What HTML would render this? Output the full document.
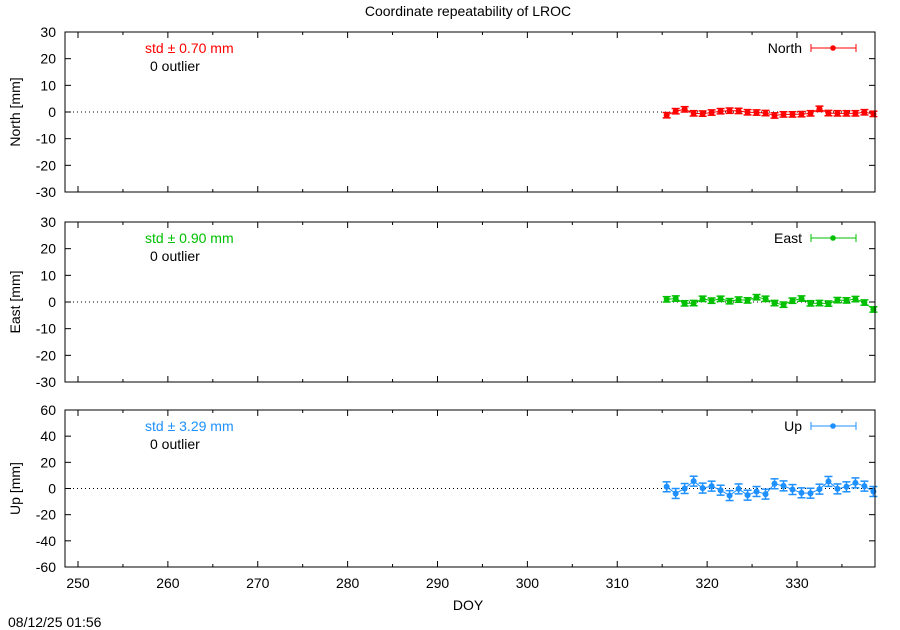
<!DOCTYPE html>
<html><head><style>body{margin:0;background:#fff}svg{display:block;font-family:"Liberation Sans",sans-serif}</style></head>
<body><svg id="s" width="900" height="630" xmlns="http://www.w3.org/2000/svg"></svg>
<script>
const s=document.getElementById('s');let h='';
const X0=65,X1=875,xp=d=>78+(d-250)*8.9875;
h+='<text x="468" y="16" font-size="14" text-anchor="middle">Coordinate repeatability of LROC</text>';
const panels=[
 {t:32,b:192,min:-30,max:30,step:10,lab:'North [mm]',col:'#ff0000',std:'0.70',name:'North',err:1.0,
  v:[-1.2,0.3,1.0,-0.5,-0.6,-0.2,0.3,0.5,0.4,-0.1,-0.2,-0.4,-1.3,-0.9,-0.9,-0.8,-0.5,1.2,-0.4,-0.5,-0.5,-0.5,-0.1,-0.7]},
 {t:222,b:382,min:-30,max:30,step:10,lab:'East [mm]',col:'#00c000',std:'0.90',name:'East',err:1.0,
  v:[1.0,1.3,-0.5,-0.4,1.2,0.5,1.2,0.3,0.9,0.6,1.8,1.2,-0.4,-1.0,0.5,1.3,-0.5,-0.4,-0.6,0.7,0.6,1.1,-0.2,-2.8]},
 {t:410,b:567,min:-60,max:60,step:20,lab:'Up [mm]',col:'#1e90ff',std:'3.29',name:'Up',err:3.8,
  v:[1.3,-3.8,0,5.6,0.3,1.8,-1.3,-5.4,-0.3,-5.1,-2.3,-4.3,3.6,2.0,-0.8,-3.3,-3.6,-0.5,5.4,-0.3,1.3,4.3,1.8,-2.3]}];
panels.forEach(p=>{
 const yp=v=>p.b-(v-p.min)/(p.max-p.min)*(p.b-p.t);
 for(let v=p.min;v<=p.max;v+=p.step){const y=yp(v);
  h+=`<line x1="${X0}" y1="${y}" x2="${X0+6}" y2="${y}" stroke="#000"/><line x1="${X1}" y1="${y}" x2="${X1-6}" y2="${y}" stroke="#000"/>`;
  h+=`<text x="56" y="${y+5}" font-size="14" text-anchor="end">${v}</text>`;}
 for(let d=250;d<=330;d+=10){const x=xp(d);
  h+=`<line x1="${x}" y1="${p.b}" x2="${x}" y2="${p.b-6}" stroke="#000"/><line x1="${x}" y1="${p.t}" x2="${x}" y2="${p.t+6}" stroke="#000"/>`;}
 for(let d=255;d<=335;d+=10){const x=xp(d);
  h+=`<line x1="${x}" y1="${p.b}" x2="${x}" y2="${p.b-3}" stroke="#000"/><line x1="${x}" y1="${p.t}" x2="${x}" y2="${p.t+3}" stroke="#000"/>`;}
 const z=yp(0);
 h+=`<line x1="${X0}" y1="${z}" x2="${X1}" y2="${z}" stroke="#000" stroke-dasharray="1,3"/>`;
 h+=`<text transform="translate(20,${(p.t+p.b)/2}) rotate(-90)" font-size="14" text-anchor="middle">${p.lab}</text>`;
 h+=`<text x="145" y="${p.t+21}" font-size="14" fill="${p.col}">std ± ${p.std} mm</text>`;
 h+=`<text x="150" y="${p.t+39}" font-size="14">0 outlier</text>`;
 h+=`<text x="802" y="${p.t+21}" font-size="14" text-anchor="end">${p.name}</text>`;
 const ly=p.t+16;
 h+=`<g stroke="${p.col}"><line x1="811" y1="${ly}" x2="856" y2="${ly}"/><line x1="811" y1="${ly-4}" x2="811" y2="${ly+4}"/><line x1="856" y1="${ly-4}" x2="856" y2="${ly+4}"/></g><circle cx="833" cy="${ly}" r="2.8" fill="${p.col}"/>`;
 let pts=[];
 p.v.forEach((v,i)=>{const x=Math.min(xp(315.5+i),874);const y=yp(v);pts.push(x+','+y);
  const e=p.err*(p.b-p.t)/(p.max-p.min);
  h+=`<g stroke="${p.col}" stroke-width="1.5"><line x1="${x}" y1="${y-e}" x2="${x}" y2="${y+e}"/><line x1="${x-4}" y1="${y-e}" x2="${x+4}" y2="${y-e}"/><line x1="${x-4}" y1="${y+e}" x2="${x+4}" y2="${y+e}"/></g><circle cx="${x}" cy="${y}" r="3" fill="${p.col}"/>`;});
 h+=`<polyline points="${pts.join(' ')}" fill="none" stroke="${p.col}"/>`;
 h+=`<rect x="${X0}" y="${p.t}" width="${X1-X0}" height="${p.b-p.t}" fill="none" stroke="#000"/>`;
});
for(let d=250;d<=330;d+=10)h+=`<text x="${xp(d)}" y="588" font-size="14" text-anchor="middle">${d}</text>`;
h+='<text x="468" y="610" font-size="14" text-anchor="middle">DOY</text>';
h+='<text x="8" y="627" font-size="14">08/12/25 01:56</text>';
s.innerHTML=h;
</script></body></html>
